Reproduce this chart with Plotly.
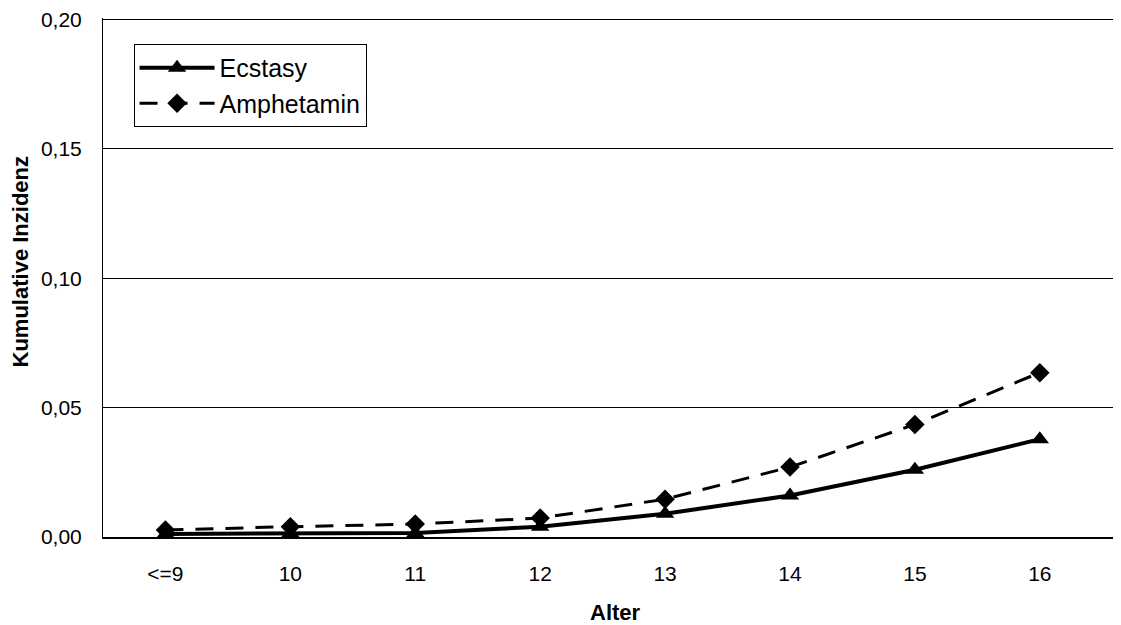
import plotly.graph_objects as go

alter = ["<=9", "10", "11", "12", "13", "14", "15", "16"]
ecstasy = [0.0012, 0.0015, 0.0015, 0.004, 0.009, 0.016, 0.026, 0.0378]
amphetamin = [0.0027, 0.004, 0.005, 0.0073, 0.0146, 0.027, 0.0435, 0.0635]

fig = go.Figure()

fig.add_trace(go.Scatter(
    x=alter, y=ecstasy, name="Ecstasy", mode="lines+markers",
    line=dict(color="black", width=4),
    marker=dict(symbol="triangle-up", size=16, color="black")
))
fig.add_trace(go.Scatter(
    x=alter, y=amphetamin, name="Amphetamin", mode="lines+markers",
    line=dict(color="black", width=3, dash="18px,12px"),
    marker=dict(symbol="diamond", size=15, color="black")
))

# page body has an 8px margin, so the figure is 8px smaller than the window
fig.update_layout(
    width=1113, height=617,
    margin=dict(l=95, r=0, t=10, b=88),
    paper_bgcolor="white", plot_bgcolor="white",
    separators=", ",
    font=dict(family="Liberation Sans, Arial", size=21, color="black"),
    showlegend=True,
    legend=dict(
        x=0.03, y=0.95, xanchor="left", yanchor="top",
        bordercolor="black", borderwidth=1, bgcolor="white",
        font=dict(size=25), itemwidth=75
    ),
    xaxis=dict(
        range=[-0.5, 7.65], showgrid=False,
        showline=True, linecolor="black", linewidth=2,
        ticks="outside", ticklen=17, tickcolor="rgba(0,0,0,0)",
        zeroline=False
    ),
    yaxis=dict(
        range=[0, 0.2005], dtick=0.05, tickformat=".2f",
        showgrid=True, gridcolor="black", gridwidth=1,
        showline=True, linecolor="black", linewidth=1,
        ticks="outside", ticklen=16, tickcolor="rgba(0,0,0,0)",
        ticklabeloverflow="allow", zeroline=False
    ),
    annotations=[
        dict(text="<b>Alter</b>", xref="paper", yref="paper",
             x=0.503, y=-0.145, xanchor="center", yanchor="middle",
             showarrow=False, font=dict(size=22)),
        dict(text="<b>Kumulative Inzidenz</b>", xref="paper", yref="paper",
             x=-0.081, y=0.53, xanchor="center", yanchor="middle",
             textangle=-90, showarrow=False, font=dict(size=22)),
    ],
)

fig.write_html("out.html")
